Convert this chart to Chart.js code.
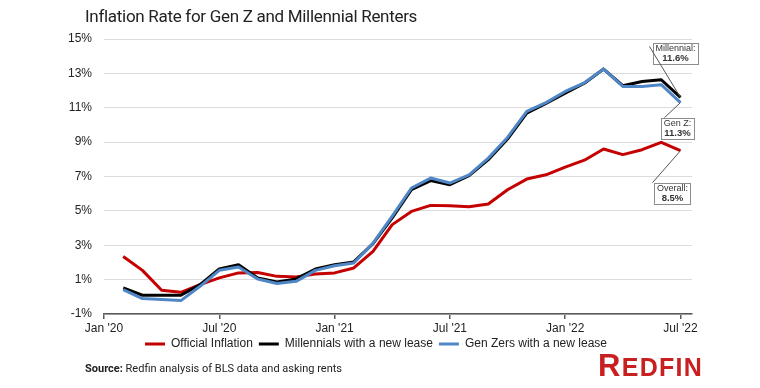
<!DOCTYPE html>
<html>
<head>
<meta charset="utf-8">
<script src="https://cdn.jsdelivr.net/npm/chart.js@4/dist/chart.umd.min.js"></script>
<style>
    html, body { margin: 0; padding: 0; background: #fff; }
    #wrap { position: relative; width: 760px; height: 388px; overflow: hidden; }
    #chart { position: absolute; left: 0; top: 0; }
    .title { position: absolute; left: 85px; top: 6px; font: 17px 'Roboto', sans-serif; letter-spacing: -0.3px; color: #222; white-space: nowrap; }
    .source { position: absolute; left: 85px; top: 362px; font: 11px 'Roboto', sans-serif; color: #222; white-space: nowrap; }
    .source b { font-weight: 700; }
    .logo { position: absolute; left: 598px; top: 348px; font: bold 25px 'Liberation Sans Narrow', 'Liberation Sans', sans-serif; color: #c82021; letter-spacing: 1.3px; white-space: nowrap; }
    .logo span { font-size: 31px; }
</style>
</head>
<body>
<div id="wrap">
    <canvas id="chart" width="760" height="388"></canvas>
    <div class="title">Inflation Rate for Gen Z and Millennial Renters</div>
    <div class="source"><b>Source:</b> Redfin analysis of BLS data and asking rents</div>
    <div class="logo"><span>R</span>EDFIN</div>
</div>
<script>
// Data: Feb 2020 - Jul 2022, year-over-year change (%)
const months = ['Feb 20', 'Mar 20', 'Apr 20', 'May 20', 'Jun 20', 'Jul 20', 'Aug 20', 'Sep 20', 'Oct 20', 'Nov 20', 'Dec 20',
    'Jan 21', 'Feb 21', 'Mar 21', 'Apr 21', 'May 21', 'Jun 21', 'Jul 21', 'Aug 21', 'Sep 21', 'Oct 21', 'Nov 21', 'Dec 21',
    'Jan 22', 'Feb 22', 'Mar 22', 'Apr 22', 'May 22', 'Jun 22', 'Jul 22'];
const officialInflation = [2.35, 1.54, 0.38, 0.26, 0.71, 1.1, 1.39, 1.42, 1.19, 1.16, 1.33,
    1.39, 1.68, 2.65, 4.2, 4.97, 5.32, 5.3, 5.24, 5.4, 6.23, 6.85, 7.1,
    7.55, 7.95, 8.6, 8.27, 8.56, 8.98, 8.5];
const millennials = [0.52, 0.09, 0.09, 0.09, 0.71, 1.62, 1.87, 1.1, 0.86, 1.04, 1.62,
    1.87, 2.03, 3.09, 4.59, 6.23, 6.76, 6.52, 7.05, 7.98, 9.18, 10.69, 11.25,
    11.85, 12.43, 13.25, 12.28, 12.53, 12.63, 11.6];
const genZ = [0.42, -0.1, -0.16, -0.22, 0.61, 1.54, 1.74, 1.04, 0.77, 0.9, 1.54,
    1.81, 1.97, 3.12, 4.7, 6.33, 6.91, 6.62, 7.1, 8.07, 9.27, 10.79, 11.3,
    11.95, 12.45, 13.25, 12.24, 12.24, 12.34, 11.3];

// x axis counted in months from Jan 2020
const tickMonths = [0, 6, 12, 18, 24, 30];
const tickLabels = ["Jan '20", "Jul '20", "Jan '21", "Jul '21", "Jan '22", "Jul '22"];
const yTicks = [-1, 1, 3, 5, 7, 9, 11, 13, 15];

const RED = '#c40000';
const BLACK = '#000000';
const BLUE = '#4f86c6';

const toPoints = arr => arr.map((v, i) => ({ x: i + 1, y: v }));

// callout boxes at the last point of each series
const callouts = [
    { dataset: 1, label: 'Millennial:', dx: -5, dy: -44, lx: -31, ly: -51 },
    { dataset: 2, label: 'Gen Z:', dx: -3, dy: 26, lx: -16, ly: 15 },
    { dataset: 0, label: 'Overall:', dx: -8, dy: 43, lx: -28, ly: 32 }
];

const calloutPlugin = {
    id: 'callouts',
    afterDatasetsDraw(chart) {
        const ctx = chart.ctx;
        callouts.forEach(c => {
            const meta = chart.getDatasetMeta(c.dataset);
            const pt = meta.data[meta.data.length - 1];
            const data = chart.data.datasets[c.dataset].data;
            const value = data[data.length - 1].y.toFixed(1) + '%';
            ctx.save();
            ctx.font = '9px "Liberation Sans", Arial, sans-serif';
            const w1 = ctx.measureText(c.label).width;
            ctx.font = 'bold 9.5px "Liberation Sans", Arial, sans-serif';
            const w2 = ctx.measureText(value).width;
            const bw = Math.max(w1, w2) + 5;
            const bh = 21;
            const cx = pt.x + c.dx, cy = pt.y + c.dy;
            ctx.fillStyle = '#fff';
            ctx.strokeStyle = '#8c8c8c';
            ctx.lineWidth = 1;
            ctx.fillRect(cx - bw / 2, cy - bh / 2, bw, bh);
            ctx.strokeRect(Math.round(cx - bw / 2) + 0.5, Math.round(cy - bh / 2) + 0.5, Math.round(bw), bh);
            ctx.beginPath();
            ctx.moveTo(pt.x, pt.y);
            ctx.lineTo(pt.x + c.lx, pt.y + c.ly);
            ctx.strokeStyle = '#555';
            ctx.stroke();
            ctx.fillStyle = '#333';
            ctx.textAlign = 'center';
            ctx.textBaseline = 'middle';
            ctx.font = '9px "Liberation Sans", Arial, sans-serif';
            ctx.fillText(c.label, cx, cy - 5);
            ctx.font = 'bold 9.5px "Liberation Sans", Arial, sans-serif';
            ctx.fillText(value, cx, cy + 5);
            ctx.restore();
        });
    }
};

Chart.defaults.font.family = "'Liberation Sans', Arial, sans-serif";
Chart.defaults.font.size = 12;
Chart.defaults.color = '#222';

const defaultLabels = Chart.defaults.plugins.legend.labels.generateLabels;

new Chart(document.getElementById('chart').getContext('2d'), {
    type: 'line',
    data: {
        datasets: [
            { label: 'Official Inflation', data: toPoints(officialInflation), borderColor: RED, backgroundColor: RED, order: 2 },
            { label: 'Millennials with a new lease', data: toPoints(millennials), borderColor: BLACK, backgroundColor: BLACK, order: 1 },
            { label: 'Gen Zers with a new lease', data: toPoints(genZ), borderColor: BLUE, backgroundColor: BLUE, order: 0 }
        ]
    },
    options: {
        responsive: false,
        animation: false,
        layout: { padding: { left: 60, right: 68, top: 39, bottom: 28 } },
        elements: {
            line: { borderWidth: 3, tension: 0, fill: false, borderJoinStyle: 'round' },
            point: { radius: 0 }
        },
        scales: {
            x: {
                type: 'linear',
                min: 0,
                max: 30.6,
                afterBuildTicks: axis => { axis.ticks = tickMonths.map(v => ({ value: v })); },
                afterFit: axis => { axis.height = 18; },
                ticks: {
                    maxRotation: 0,
                    padding: 2,
                    color: '#222',
                    callback: v => tickLabels[tickMonths.indexOf(v)]
                },
                grid: { drawOnChartArea: false, drawTicks: true, tickLength: 5, color: '#595959', lineWidth: 1.5 },
                border: { display: true, color: '#595959', width: 1.5 }
            },
            y: {
                min: -1,
                max: 15,
                afterBuildTicks: axis => { axis.ticks = yTicks.map(v => ({ value: v })); },
                afterFit: axis => { axis.width = 44; },
                ticks: { padding: 12, color: '#222', callback: v => v + '%' },
                grid: { color: '#dcdcdc', lineWidth: 1, drawTicks: false },
                border: { display: false }
            }
        },
        plugins: {
            legend: {
                position: 'bottom',
                labels: {
                    boxWidth: 20,
                    boxHeight: 3,
                    padding: 6,
                    color: '#222',
                    generateLabels: chart => defaultLabels(chart)
                        .map(item => Object.assign(item, { lineWidth: 0, fillStyle: item.strokeStyle }))
                        .sort((a, b) => a.datasetIndex - b.datasetIndex)
                }
            },
            tooltip: { enabled: false }
        }
    },
    plugins: [calloutPlugin]
});
</script>
</body>
</html>
